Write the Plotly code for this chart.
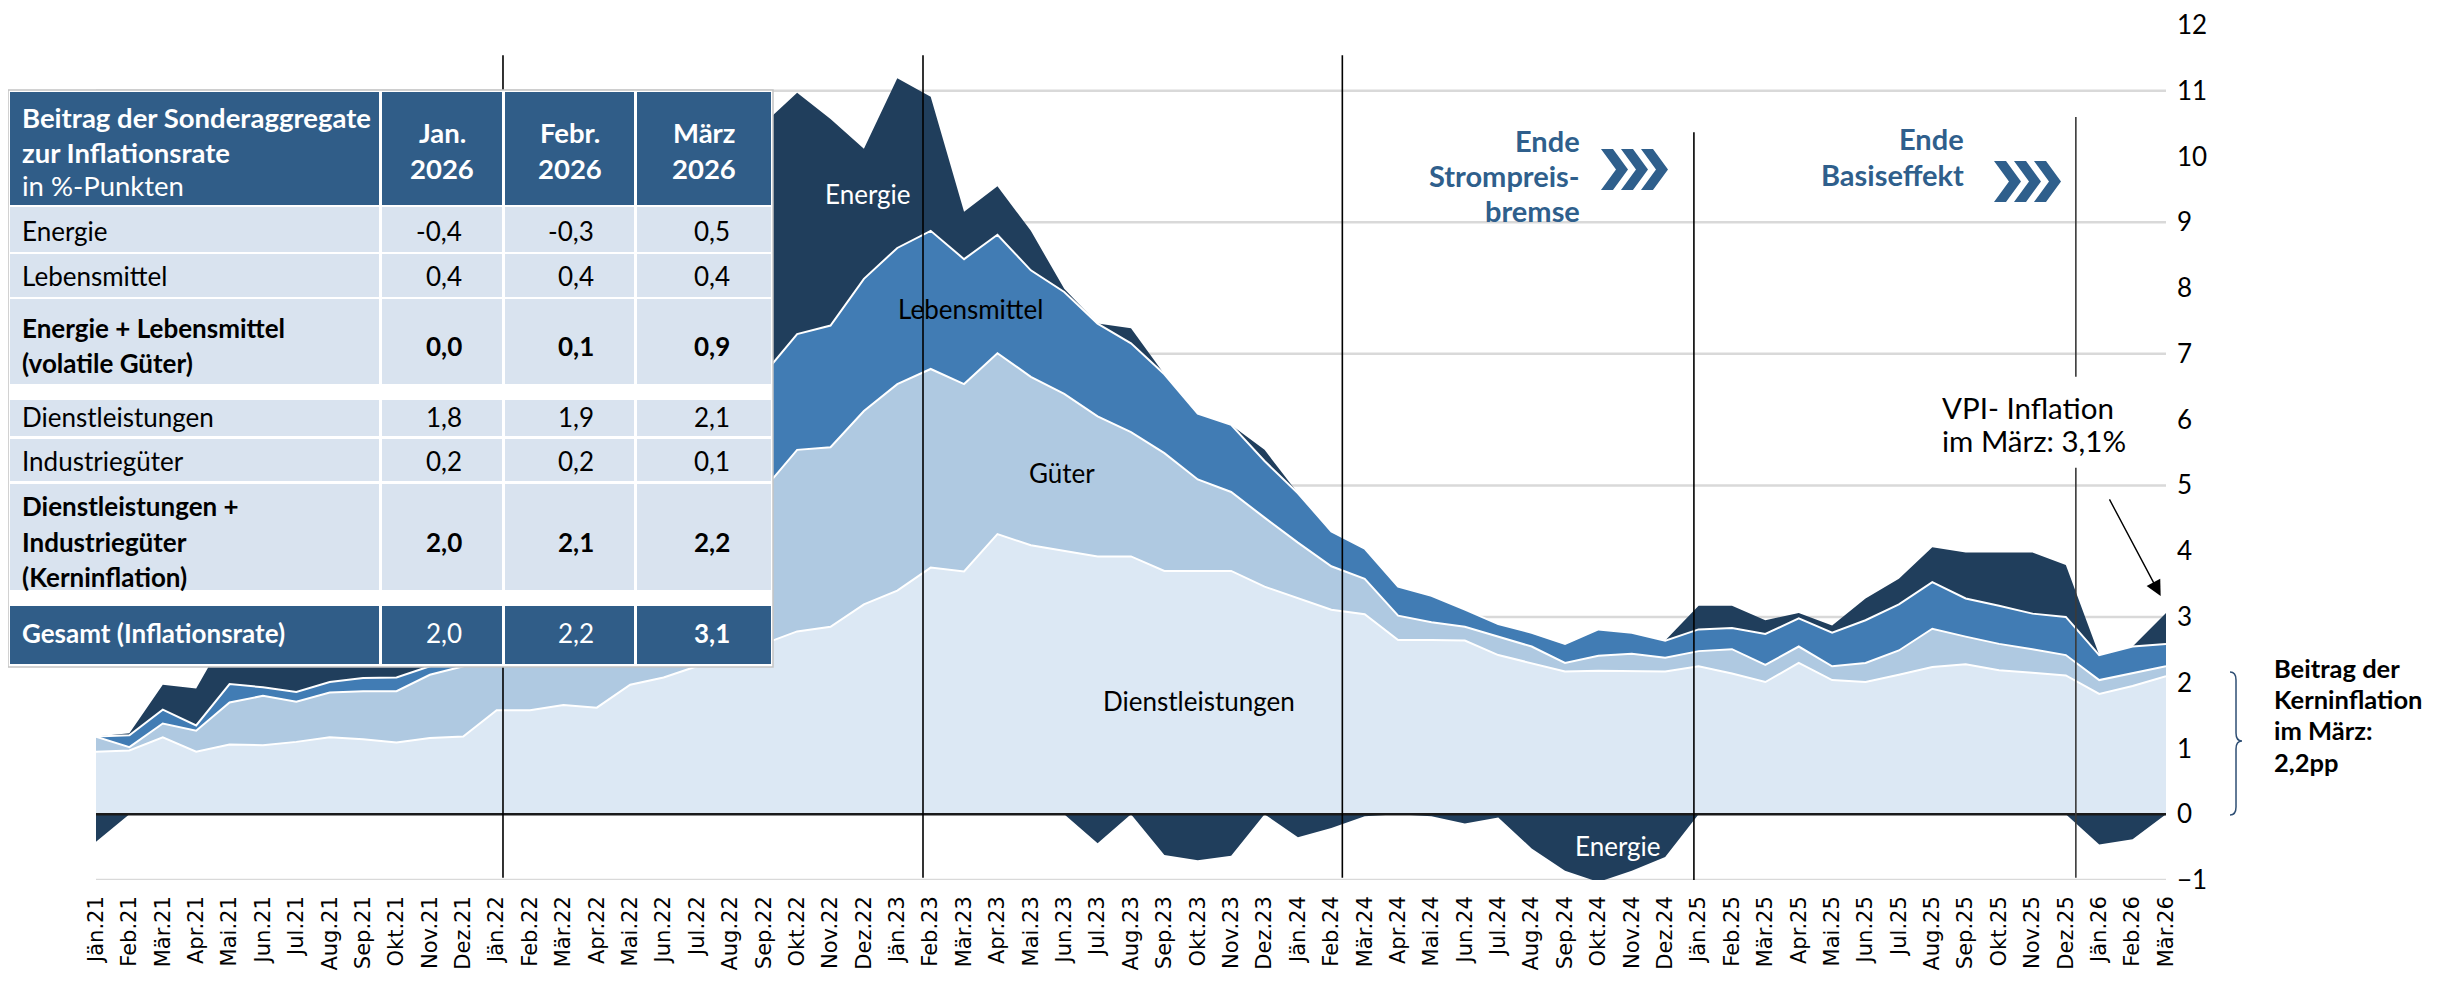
import plotly.graph_objects as go

# ---------------- data ----------------
months = ["Jän.21","Feb.21","Mär.21","Apr.21","Mai.21","Jun.21","Jul.21","Aug.21","Sep.21","Okt.21","Nov.21","Dez.21",
          "Jän.22","Feb.22","Mär.22","Apr.22","Mai.22","Jun.22","Jul.22","Aug.22","Sep.22","Okt.22","Nov.22","Dez.22",
          "Jän.23","Feb.23","Mär.23","Apr.23","Mai.23","Jun.23","Jul.23","Aug.23","Sep.23","Okt.23","Nov.23","Dez.23",
          "Jän.24","Feb.24","Mär.24","Apr.24","Mai.24","Jun.24","Jul.24","Aug.24","Sep.24","Okt.24","Nov.24","Dez.24",
          "Jän.25","Feb.25","Mär.25","Apr.25","Mai.25","Jun.25","Jul.25","Aug.25","Sep.25","Okt.25","Nov.25","Dez.25",
          "Jän.26","Feb.26","Mär.26"]

dienstleistungen = [0.95,0.97,1.17,0.95,1.06,1.05,1.10,1.17,1.14,1.09,1.16,1.18,
                    1.58,1.58,1.66,1.62,1.97,2.08,2.25,2.45,2.59,2.78,2.85,3.19,
                    3.40,3.75,3.69,4.26,4.09,4.00,3.92,3.92,3.70,3.70,3.70,3.46,
                    3.28,3.11,3.04,2.65,2.65,2.64,2.42,2.30,2.17,2.18,2.18,2.17,
                    2.25,2.14,2.01,2.30,2.04,2.01,2.12,2.24,2.28,2.19,2.15,2.11,
                    1.83,1.95,2.10]

gueter = [0.23,0.05,0.21,0.32,0.64,0.75,0.61,0.68,0.73,0.78,0.96,1.07,
          1.02,1.32,1.64,1.98,2.03,2.22,2.35,2.35,2.35,2.76,2.73,2.94,
          3.14,3.02,2.85,2.75,2.56,2.39,2.13,1.89,1.79,1.39,1.20,1.05,
          0.85,0.66,0.54,0.37,0.27,0.21,0.28,0.25,0.13,0.23,0.26,0.21,
          0.23,0.37,0.26,0.25,0.21,0.29,0.37,0.58,0.42,0.40,0.36,0.31,
          0.21,0.20,0.15]

lebensmittel = [0.00,0.18,0.21,0.08,0.28,0.13,0.15,0.16,0.20,0.21,0.13,0.20,
                0.30,0.40,0.50,0.70,0.80,1.00,1.30,1.50,1.75,1.76,1.85,2.01,
                2.07,2.10,1.90,1.80,1.62,1.55,1.41,1.35,1.20,1.00,1.02,0.86,
                0.75,0.53,0.46,0.44,0.40,0.26,0.19,0.21,0.29,0.40,0.32,0.26,
                0.33,0.32,0.47,0.43,0.51,0.65,0.70,0.71,0.58,0.58,0.54,0.58,
                0.38,0.40,0.34]

energie = [-0.42,0.03,0.38,0.56,0.82,0.87,1.04,1.19,1.23,1.62,2.05,1.85,
           2.10,2.50,3.00,2.90,2.90,3.40,3.50,2.90,3.81,3.67,3.14,1.98,
           2.58,2.04,0.72,0.74,0.60,0.05,-0.44,0.23,-0.62,-0.70,-0.63,0.17,
           -0.35,-0.21,-0.03,0.00,-0.03,-0.14,-0.05,-0.52,-0.86,-1.03,-0.86,-0.65,
           0.36,0.34,0.21,0.08,0.11,0.33,0.39,0.53,0.70,0.81,0.93,0.79,
           -0.46,-0.38,0.47]

y_ticks = list(range(-1, 13))

# table contents
table_head_cols = [["Jan.", "2026"], ["Febr.", "2026"], ["März", "2026"]]
table_labels = [["Energie"], ["Lebensmittel"], ["Energie + Lebensmittel", "(volatile Güter)"],
                ["Dienstleistungen"], ["Industriegüter"],
                ["Dienstleistungen +", "Industriegüter", "(Kerninflation)"],
                ["Gesamt (Inflationsrate)"]]
table_jan = ["-0,4", "0,4", "0,0", "1,8", "0,2", "2,0", "2,0"]
table_feb = ["-0,3", "0,4", "0,1", "1,9", "0,2", "2,1", "2,2"]
table_mar = ["0,5", "0,4", "0,9", "2,1", "0,1", "2,2", "3,1"]

# ---------------- styling ----------------
C_D = "#DCE8F4"
C_G = "#AFC9E1"
C_L = "#417CB4"
C_E = "#203E5C"
C_HEAD = "#305D88"
C_CELL = "#D9E3EF"
C_TXT_BLUE = "#2F5F8C"
FONT = "Lato, Liberation Sans, sans-serif"

# page body has an 8px margin: figure is drawn at offset (8, 8)
OFF = 8
W, H = 2438 - 2 * OFF, 983 - 2 * OFF
ML, MT = 96 - OFF, 25 - OFF
MR = W - (2166 - OFF)
MB = H - (880 - OFF)
PW, PH = W - ML - MR, H - MT - MB


def PX(xs):  # screen px -> paper
    return (xs - OFF - ML) / PW


def PY(ys):
    return (H - MB - (ys - OFF)) / PH


x = list(range(len(months)))
e_pos = [max(v, 0) for v in energie]
e_neg = [min(v, 0) for v in energie]

fig = go.Figure()
fig.add_trace(go.Scatter(x=x, y=dienstleistungen, stackgroup="pos", mode="lines",
                         line=dict(color="white", width=2), fillcolor=C_D, name="Dienstleistungen"))
fig.add_trace(go.Scatter(x=x, y=gueter, stackgroup="pos", mode="lines",
                         line=dict(color="white", width=2), fillcolor=C_G, name="Güter"))
fig.add_trace(go.Scatter(x=x, y=lebensmittel, stackgroup="pos", mode="lines",
                         line=dict(color="white", width=2), fillcolor=C_L, name="Lebensmittel"))
fig.add_trace(go.Scatter(x=x, y=e_pos, stackgroup="pos", mode="lines",
                         line=dict(color=C_E, width=0), fillcolor=C_E, name="Energie"))
fig.add_trace(go.Scatter(x=x, y=e_neg, fill="tozeroy", mode="lines",
                         line=dict(color=C_E, width=0), fillcolor=C_E, name="Energie (neg.)"))

shapes = []
annotations = []

# gridlines (every 2 units starting at -1)
for gy in [-1, 1, 3, 5, 7, 9, 11]:
    shapes.append(dict(type="line", xref="x", yref="y", x0=0, x1=len(months) - 1, y0=gy, y1=gy,
                       line=dict(color="#D9D9D9", width=2.5), layer="below"))
# zero line
shapes.append(dict(type="line", xref="x", yref="y", x0=0, x1=len(months) - 1, y0=0, y1=0,
                   line=dict(color="#1A1A1A", width=2.5), layer="above"))

# vertical marker lines
vlines = [(12.19, -0.965, 11.54, "#000000"), (24.77, -0.965, 11.54, "#000000"),
          (37.33, -0.965, 11.54, "#000000"), (47.86, -1.2, 10.37, "#000000"),
          (59.3, -0.965, 5.27, "#3A3A3A"), (59.3, 6.65, 10.6, "#3A3A3A")]
for vx, y0, y1, col in vlines:
    shapes.append(dict(type="line", xref="x", yref="y", x0=vx, x1=vx, y0=y0, y1=y1,
                       line=dict(color=col, width=1.6), layer="above"))

# ---------------- table ----------------
shapes.append(dict(type="rect", xref="paper", yref="paper", x0=PX(8), x1=PX(773), y0=PY(667), y1=PY(90),
                   fillcolor="white", line=dict(color="#C4C4C4", width=1.5), layer="above"))
col_x = [(10, 379), (382, 502), (505, 634), (637, 771)]
row_y = [(92, 205, "head"), (207, 252, "body"), (254, 297, "body"), (299, 384, "body"),
         (400, 436, "body"), (439, 481, "body"), (484, 590, "body"), (606, 664, "head")]
for (ry0, ry1, kind) in row_y:
    for (cx0, cx1) in col_x:
        shapes.append(dict(type="rect", xref="paper", yref="paper", x0=PX(cx0), x1=PX(cx1),
                           y0=PY(ry1), y1=PY(ry0), line=dict(width=0),
                           fillcolor=C_HEAD if kind == "head" else C_CELL, layer="above"))


def tann(text, xp, yp, anchor="left", size=26, color="black"):
    annotations.append(dict(text=text, xref="paper", yref="paper", x=PX(xp), y=PY(yp),
                            xanchor=anchor, yanchor="middle", showarrow=False,
                            font=dict(family=FONT, size=size, color=color)))


# header
tann("<b>Beitrag der Sonderaggregate</b>", 20, 117, size=27.5, color="white")
tann("<b>zur Inflationsrate</b>", 20, 152, size=27.5, color="white")
tann("in %-Punkten", 20, 186, size=27.5, color="white")
for (cx0, cx1), lines in zip(col_x[1:], table_head_cols):
    cx = (cx0 + cx1) / 2
    tann("<b>" + lines[0] + "</b>", cx, 133, anchor="center", size=27.5, color="white")
    tann("<b>" + lines[1] + "</b>", cx, 169, anchor="center", size=27.5, color="white")

label_line_y = [[231], [276], [328, 363], [417], [461], [506, 542, 577], [633]]
value_y = [231, 276, 346, 417, 461, 542, 633]
bold_rows = [False, False, True, False, False, True, True]
for i, lines in enumerate(table_labels):
    white = (i == len(table_labels) - 1)
    col = "white" if white else "black"
    for ln, ly in zip(lines, label_line_y[i]):
        t = "<b>" + ln + "</b>" if bold_rows[i] else ln
        tann(t, 20, ly, color=col)
    for vals, right in zip([table_jan, table_feb, table_mar], [464, 596, 732]):
        v = vals[i]
        if white:
            t = "<b>" + v + "</b>" if vals is table_mar else v
        else:
            t = "<b>" + v + "</b>" if bold_rows[i] else v
        tann(t, right, value_y[i], anchor="right", color=col)

# ---------------- chart labels ----------------
area_labels = [("Energie", 23.12, 9.43, "white"), ("Lebensmittel", 26.18, 7.68, "black"),
               ("Güter", 28.93, 5.19, "black"), ("Dienstleistungen", 33.04, 1.72, "black"),
               ("Energie", 45.6, -0.48, "white")]
for t, ax_, ay_, col in area_labels:
    annotations.append(dict(text=t, xref="x", yref="y", x=ax_, y=ay_, showarrow=False,
                            xanchor="center", yanchor="middle",
                            font=dict(family=FONT, size=26, color=col)))

# Ende Strompreisbremse / Basiseffekt
for t, yp in [("Ende", 140), ("Strompreis-", 175), ("bremse", 210)]:
    tann("<b>" + t + "</b>", 1582, yp, anchor="right", size=29, color=C_TXT_BLUE)
for t, yp in [("Ende", 139), ("Basiseffekt", 174)]:
    tann("<b>" + t + "</b>", 1966, yp, anchor="right", size=29, color=C_TXT_BLUE)


def chevrons(X, top, bot, t=12, d=15, step=20):
    mid = (top + bot) / 2
    for k in range(3):
        x0 = X + k * step
        pts = [(x0, top), (x0 + t, top), (x0 + t + d, mid), (x0 + t, bot), (x0, bot), (x0 + d, mid)]
        path = "M " + " L ".join(f"{PX(a):.5f},{PY(b):.5f}" for a, b in pts) + " Z"
        shapes.append(dict(type="path", xref="paper", yref="paper", path=path,
                           fillcolor=C_TXT_BLUE, line=dict(width=0), layer="above"))


chevrons(1601, 149, 190)
chevrons(1994, 161, 202)

# VPI annotation + arrow
tann("VPI- Inflation", 1940, 407, size=29.5)
tann("im März: 3,1%", 1940, 440, size=29.5)
annotations.append(dict(text="", xref="x", yref="y", x=61.84, y=3.32, ax=-52, ay=-98,
                        showarrow=True, arrowhead=2, arrowsize=2.2, arrowwidth=1.4,
                        arrowcolor="black", standoff=0))


# Kerninflation brace + text
def P(a, b):
    return f"{PX(a):.5f},{PY(b):.5f}"


brace = (f"M {P(2230,672)} Q {P(2236,672)} {P(2236,680)} L {P(2236,733)} "
         f"Q {P(2236,741)} {P(2242,741)} Q {P(2236,741)} {P(2236,749)} "
         f"L {P(2236,807)} Q {P(2236,815)} {P(2230,815)}")
shapes.append(dict(type="path", xref="paper", yref="paper", path=brace,
                   line=dict(color="#2F4F74", width=1.5), layer="above"))
for t, yp in [("Beitrag der", 668), ("Kerninflation", 699), ("im März:", 730), ("2,2pp", 762)]:
    tann("<b>" + t + "</b>", 2272, yp, size=25.5)

fig.update_layout(
    width=W, height=H, autosize=False,
    margin=dict(l=ML, r=MR, t=MT, b=MB, pad=0, autoexpand=False),
    paper_bgcolor="white", plot_bgcolor="white",
    showlegend=False,
    font=dict(family=FONT, color="black"),
    shapes=shapes, annotations=annotations,
    xaxis=dict(range=[0, len(months) - 1], tickvals=x, ticktext=months, tickangle=-90,
               showgrid=False, zeroline=False, showline=False, ticks="", automargin=False,
               ticklabelstandoff=11,
               tickfont=dict(family="DejaVu Sans, sans-serif", size=21, color="black")),
    yaxis=dict(range=[-1, 12], side="right", tickvals=y_ticks, showgrid=False, zeroline=False,
               showline=False, ticks="", automargin=False, ticklabelstandoff=10,
               tickfont=dict(family=FONT, size=26, color="black")),
)

fig.write_html("out.html")
